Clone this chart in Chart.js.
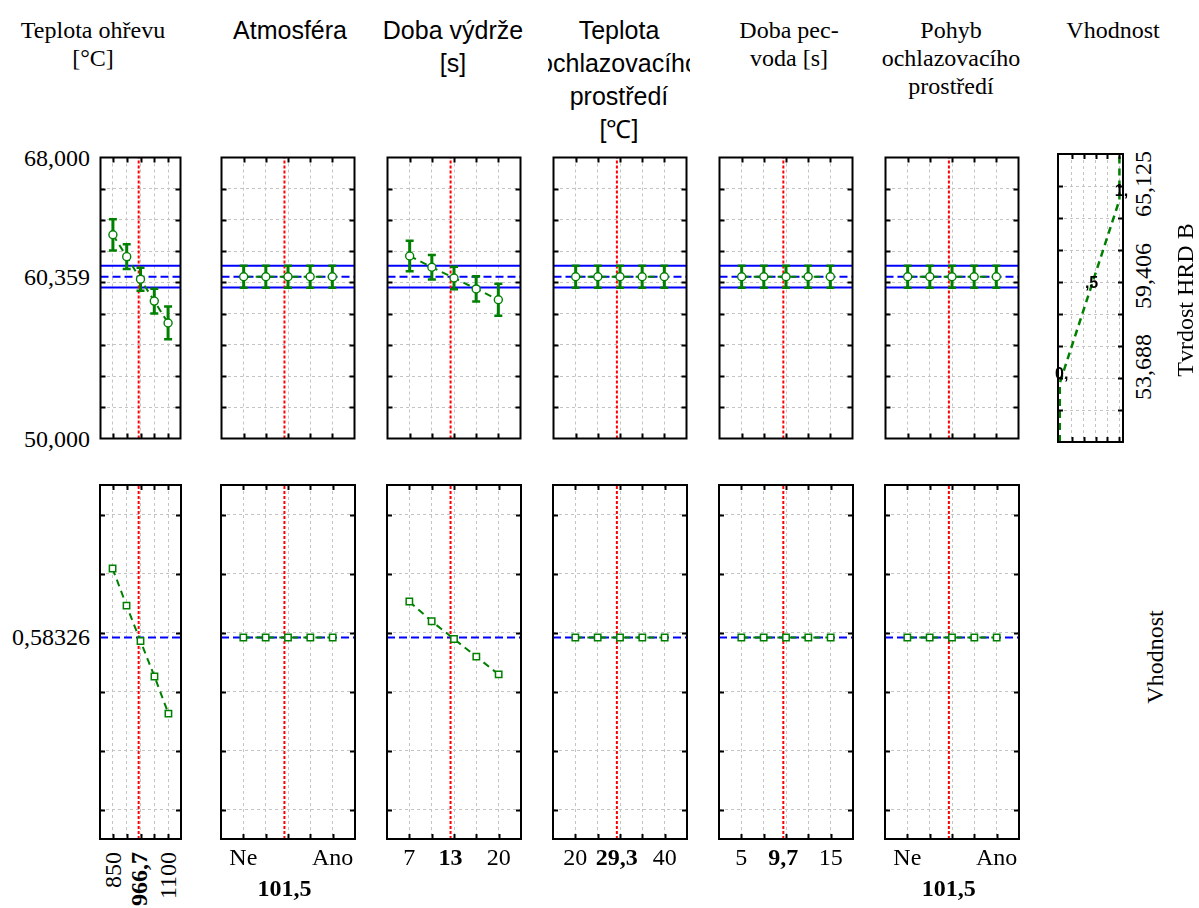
<!DOCTYPE html>
<html>
<head>
<meta charset="utf-8">
<script src="https://cdn.jsdelivr.net/npm/chart.js@4.4.0/dist/chart.umd.min.js"></script>
<style>
  body { margin: 0; background: #fff; }
  #stage { position: relative; width: 1199px; height: 908px; overflow: hidden; background: #fff; }
  .txt { position: absolute; white-space: nowrap; font-family: "Liberation Serif", "Times New Roman", serif; font-size: 24px; line-height: 1; color: #000; }
  .b { font-weight: bold; }
  .txt.small { font-family: "Liberation Sans", Arial, sans-serif; font-size: 16px; font-weight: bold; }
  .head { position: absolute; overflow: hidden; color: #000; }
  .head div { display: flex; justify-content: center; white-space: nowrap; }
  .head.serif, .txt.serif { font-family: "Liberation Serif", "Times New Roman", serif; font-size: 24px; }
  .head.sans { font-family: "Liberation Sans", Arial, sans-serif; font-size: 25px; }
</style>
</head>
<body>
<div id="stage"></div>
<script>
// Profily predikovaných hodnot a vhodnosti - Tvrdost HRD B

// faktory (sloupce)
const factorTitles = [
  ['Teplota ohřevu', '[°C]'],
  ['Atmosféra'],
  ['Doba výdrže', '[s]'],
  ['Teplota', 'ochlazovacího', 'prostředí', '[℃]'],
  ['Doba pec-', 'voda [s]'],
  ['Pohyb', 'ochlazovacího', 'prostředí']
];
const responseTitle = 'Tvrdost HRD B';
const desirTitle = 'Vhodnost';

// úrovně faktorů (Ne = 0, Ano = 1)
const levels = [
  [850, 912.5, 975, 1037.5, 1100],
  [0, 0.25, 0.5, 0.75, 1],
  [7, 10.25, 13.5, 16.75, 20],
  [20, 25, 30, 35, 40],
  [5, 7.5, 10, 12.5, 15],
  [0, 0.25, 0.5, 0.75, 1]
];
const axisMin = [793.75, -0.25, 3.75, 15, 2.5, -0.25];
const axisMax = [1156.25, 1.25, 23.25, 45, 17.5, 1.25];

const currentX = [966.7, 0.46, 13, 29.3, 9.7, 0.465];
const currentLabels = ['966,7', '101,5', '13', '29,3', '9,7', '101,5'];
const tickValues = [[850, 1100], [0, 1], [7, 20], [20, 40], [5, 15], [0, 1]];
const tickLabels = [['850', '1100'], ['Ne', 'Ano'], ['7', '20'], ['20', '40'], ['5', '15'], ['Ne', 'Ano']];

// predikovaná tvrdost (průměr a polovina intervalu spolehlivosti)
const hardnessMean = [
  [63.05, 61.65, 60.2, 58.8, 57.4],
  [60.36, 60.36, 60.36, 60.36, 60.36],
  [61.69, 60.97, 60.28, 59.58, 58.89],
  [60.36, 60.36, 60.36, 60.36, 60.36],
  [60.36, 60.36, 60.36, 60.36, 60.36],
  [60.36, 60.36, 60.36, 60.36, 60.36]
];
const hardnessErr = [
  [1.0, 0.8, 0.73, 0.8, 1.05],
  [0.7, 0.7, 0.7, 0.7, 0.7],
  [0.98, 0.78, 0.72, 0.81, 1.03],
  [0.7, 0.7, 0.7, 0.7, 0.7],
  [0.7, 0.7, 0.7, 0.7, 0.7],
  [0.7, 0.7, 0.7, 0.7, 0.7]
];
const hardnessNow = 60.359;
const hardnessLo = 59.67;
const hardnessHi = 61.06;

// vhodnost
const desirability = [
  [0.817, 0.691, 0.571, 0.451, 0.325],
  [0.583, 0.583, 0.583, 0.583, 0.583],
  [0.705, 0.638, 0.578, 0.518, 0.458],
  [0.583, 0.583, 0.583, 0.583, 0.583],
  [0.583, 0.583, 0.583, 0.583, 0.583],
  [0.583, 0.583, 0.583, 0.583, 0.583]
];
const desirNow = 0.58326;

// osy
const hardnessMin = 50, hardnessMax = 68;
const hardnessGrid = [52, 54, 56, 58, 60, 62, 64, 66];
const hardnessTicks = [68, 60.359, 50];
const hardnessTickLabels = ['68,000', '60,359', '50,000'];
const desirMin = -0.1, desirMax = 1.1;
const desirGrid = [0, 0.2, 0.4, 0.6, 0.8, 1];
const desirTicks = [0.58326];
const desirTickLabels = ['0,58326'];

// funkce vhodnosti
const dFuncHardness = [50, 53.688, 59.406, 65.125, 68];
const dFuncValue = [0, 0, 0.5, 1, 1];
const dFuncMin = -0.03, dFuncMax = 1.06;
const dFuncGrid = [0.2, 0.4, 0.6, 0.8, 1];
const dFuncTicks = [53.688, 59.406, 65.125];
const dFuncTickLabels = ['53,688', '59,406', '65,125'];
const dMarks = [0, 0.5, 1];
const dMarkLabels = ['0,', ',5', '1,'];

// rozložení
const GREEN = '#008000', BLUE = '#0000ff', RED = '#ff0000';
const panelX = [97, 218, 384, 550, 716, 882];
const panelW = [87, 140, 140, 140, 140, 140];
const topRow = { y: 154, h: 288 };
const bottomRow = { y: 482, h: 360 };
const dPanel = { x: 1058, w: 65 };
const headCenter = [93, 290, 453, 619, 789, 951];
const headWidth = [190, 190, 190, 142, 190, 190];
const headFont = ['serif', 'sans', 'sans', 'sans', 'serif', 'serif'];

const stage = document.getElementById('stage');

const framePlugin = {
  id: 'frame',
  afterDraw(chart) {
    const { ctx, chartArea: a, scales } = chart;
    ctx.save();
    ctx.strokeStyle = '#000';
    ctx.lineWidth = 2;
    ctx.beginPath();
    scales.x.ticks.forEach(t => {
      const px = Math.round(scales.x.getPixelForValue(t.value)) + 0.5;
      ctx.moveTo(px, a.top); ctx.lineTo(px, a.top + 5);
      ctx.moveTo(px, a.bottom); ctx.lineTo(px, a.bottom - 5);
    });
    scales.y.ticks.forEach(t => {
      const py = Math.round(scales.y.getPixelForValue(t.value)) + 0.5;
      ctx.moveTo(a.left, py); ctx.lineTo(a.left + 5, py);
      ctx.moveTo(a.right, py); ctx.lineTo(a.right - 5, py);
    });
    ctx.stroke();
    ctx.strokeRect(a.left, a.top, a.right - a.left, a.bottom - a.top);
    ctx.restore();
  }
};

function axis(min, max, grid) {
  return {
    type: 'linear',
    min: min,
    max: max,
    afterBuildTicks: s => { s.ticks = grid.map(v => ({ value: v })); },
    afterFit: s => { if (s.isHorizontal()) s.height = 0; else s.width = 0; },
    ticks: { display: false },
    grid: { color: '#c4c4c4', lineWidth: 1, drawTicks: false },
    border: { display: false, dash: [3, 3] }
  };
}

function makePanel(x, y, w, h, xAxis, yAxis, datasets) {
  const pad = 3;
  const canvas = document.createElement('canvas');
  canvas.width = w + 2 * pad;
  canvas.height = h + 2 * pad;
  canvas.style.position = 'absolute';
  canvas.style.left = (x - pad) + 'px';
  canvas.style.top = (y - pad) + 'px';
  canvas.style.width = (w + 2 * pad) + 'px';
  canvas.style.height = (h + 2 * pad) + 'px';
  stage.appendChild(canvas);
  const chart = new Chart(canvas, {
    type: 'scatter',
    data: { datasets: datasets },
    options: {
      responsive: false,
      animation: false,
      devicePixelRatio: 1,
      events: [],
      layout: { padding: pad },
      plugins: { legend: { display: false }, tooltip: { enabled: false } },
      scales: { x: xAxis, y: yAxis }
    },
    plugins: [framePlugin]
  });
  chart.offX = x - pad;
  chart.offY = y - pad;
  return chart;
}

function hLine(x0, x1, y, dash) {
  return { data: [{ x: x0, y: y }, { x: x1, y: y }], showLine: true, borderColor: BLUE, borderWidth: 2, borderDash: dash || [], pointRadius: 0 };
}
function redLine(x, y0, y1) {
  return { data: [{ x: x, y: y0 }, { x: x, y: y1 }], showLine: true, borderColor: RED, borderWidth: 2, borderDash: [3, 2], pointRadius: 0 };
}

function addText(text, x, y, cls, transform, origin) {
  const d = document.createElement('div');
  d.className = 'txt ' + (cls || '');
  d.textContent = text;
  d.style.left = x + 'px';
  d.style.top = y + 'px';
  d.style.transform = transform || 'translate(-50%,-50%)';
  if (origin) d.style.transformOrigin = origin;
  stage.appendChild(d);
  return d;
}

// záhlaví sloupců
factorTitles.forEach((lines, i) => {
  const sans = headFont[i] === 'sans';
  const lh = sans ? 33 : 28;
  const box = document.createElement('div');
  box.className = 'head ' + headFont[i];
  box.style.left = (headCenter[i] - headWidth[i] / 2) + 'px';
  box.style.top = (30 - lh / 2) + 'px';
  box.style.width = headWidth[i] + 'px';
  lines.forEach(t => {
    const l = document.createElement('div');
    l.style.height = lh + 'px';
    l.style.lineHeight = lh + 'px';
    l.textContent = t;
    box.appendChild(l);
  });
  stage.appendChild(box);
});
addText(desirTitle, 1113, 30, 'serif');

const topCharts = [];
const bottomCharts = [];

levels.forEach((xs, i) => {
  const xmin = axisMin[i], xmax = axisMax[i];

  // horní řada: tvrdost
  const topSets = [];
  topSets.push({
    data: xs.map((x, k) => ({ x: x, y: hardnessMean[i][k] })),
    showLine: true, borderColor: GREEN, borderWidth: 2, borderDash: [7, 5],
    pointStyle: 'circle', pointRadius: 4, pointBackgroundColor: '#fff',
    pointBorderColor: GREEN, pointBorderWidth: 1.4
  });
  xs.forEach((x, k) => {
    const m = hardnessMean[i][k], e = hardnessErr[i][k];
    topSets.push({
      data: [{ x: x, y: m - e }, { x: x, y: m + e }],
      showLine: true, borderColor: GREEN, borderWidth: 3,
      pointStyle: 'line', pointRadius: 4, pointBorderWidth: 2.5, pointBorderColor: GREEN
    });
  });
  topSets.push(redLine(currentX[i], hardnessMin, hardnessMax));
  topSets.push(hLine(xmin, xmax, hardnessNow, [8, 4]));
  topSets.push(hLine(xmin, xmax, hardnessHi));
  topSets.push(hLine(xmin, xmax, hardnessLo));
  topCharts.push(makePanel(panelX[i], topRow.y, panelW[i], topRow.h,
    axis(xmin, xmax, xs), axis(hardnessMin, hardnessMax, hardnessGrid), topSets));

  // dolní řada: vhodnost
  const botSets = [];
  botSets.push({
    data: xs.map((x, k) => ({ x: x, y: desirability[i][k] })),
    showLine: true, borderColor: GREEN, borderWidth: 2, borderDash: [7, 5],
    pointStyle: 'rect', pointRadius: 4.5, pointBackgroundColor: '#fff',
    pointBorderColor: GREEN, pointBorderWidth: 1.5
  });
  botSets.push(redLine(currentX[i], desirMin, desirMax));
  botSets.push(hLine(xmin, xmax, desirNow, [8, 4]));
  bottomCharts.push(makePanel(panelX[i], bottomRow.y, panelW[i], bottomRow.h,
    axis(xmin, xmax, xs), axis(desirMin, desirMax, desirGrid), botSets));
});

// panel funkce vhodnosti
const dChart = makePanel(dPanel.x, topRow.y, dPanel.w, topRow.h,
  axis(dFuncMin, dFuncMax, dFuncGrid), axis(hardnessMin, hardnessMax, hardnessGrid), [{
    data: dFuncValue.map((d, k) => ({ x: d, y: dFuncHardness[k] })),
    showLine: true, borderColor: GREEN, borderWidth: 2.5, borderDash: [7, 5], pointRadius: 0
  }]);

// popisky os
const c0 = topCharts[0];
hardnessTicks.forEach((v, k) => {
  addText(hardnessTickLabels[k], panelX[0] - 7, c0.offY + c0.scales.y.getPixelForValue(v), '', 'translate(-100%,-50%)');
});
const b0 = bottomCharts[0];
desirTicks.forEach((v, k) => {
  addText(desirTickLabels[k], panelX[0] - 7, b0.offY + b0.scales.y.getPixelForValue(v), '', 'translate(-100%,-50%)');
});

const row1 = 857, row2 = 888;
bottomCharts.forEach((ch, i) => {
  const px = v => ch.offX + ch.scales.x.getPixelForValue(v);
  if (i === 0) {
    const rot = 'rotate(-90deg) translate(-100%,-50%)';
    tickValues[i].forEach((v, k) => addText(tickLabels[i][k], px(v), 852, '', rot, '0 0'));
    addText(currentLabels[i], px(currentX[i]), 852, 'b', rot, '0 0');
    return;
  }
  tickValues[i].forEach((v, k) => addText(tickLabels[i][k], px(v), row1));
  const crowded = tickLabels[i][0] === 'Ne';
  addText(currentLabels[i], px(currentX[i]), crowded ? row2 : row1, 'b');
});

// pravá strana
dFuncTicks.forEach((v, k) => {
  addText(dFuncTickLabels[k], 1143, dChart.offY + dChart.scales.y.getPixelForValue(v) - 16, '', 'translate(-50%,-50%) rotate(-90deg)');
});
dMarks.forEach((d, k) => {
  const x = dChart.offX + dChart.scales.x.getPixelForValue(d);
  const y = dChart.offY + dChart.scales.y.getPixelForValue(dFuncHardness[k + 1]);
  addText(dMarkLabels[k], x + 2, y - 1, 'small', 'translate(-50%,-100%)');
});
addText(responseTitle, 1185, 300, '', 'translate(-50%,-50%) rotate(-90deg)');
addText(desirTitle, 1155, 657, '', 'translate(-50%,-50%) rotate(-90deg)');
</script>
</body>
</html>
